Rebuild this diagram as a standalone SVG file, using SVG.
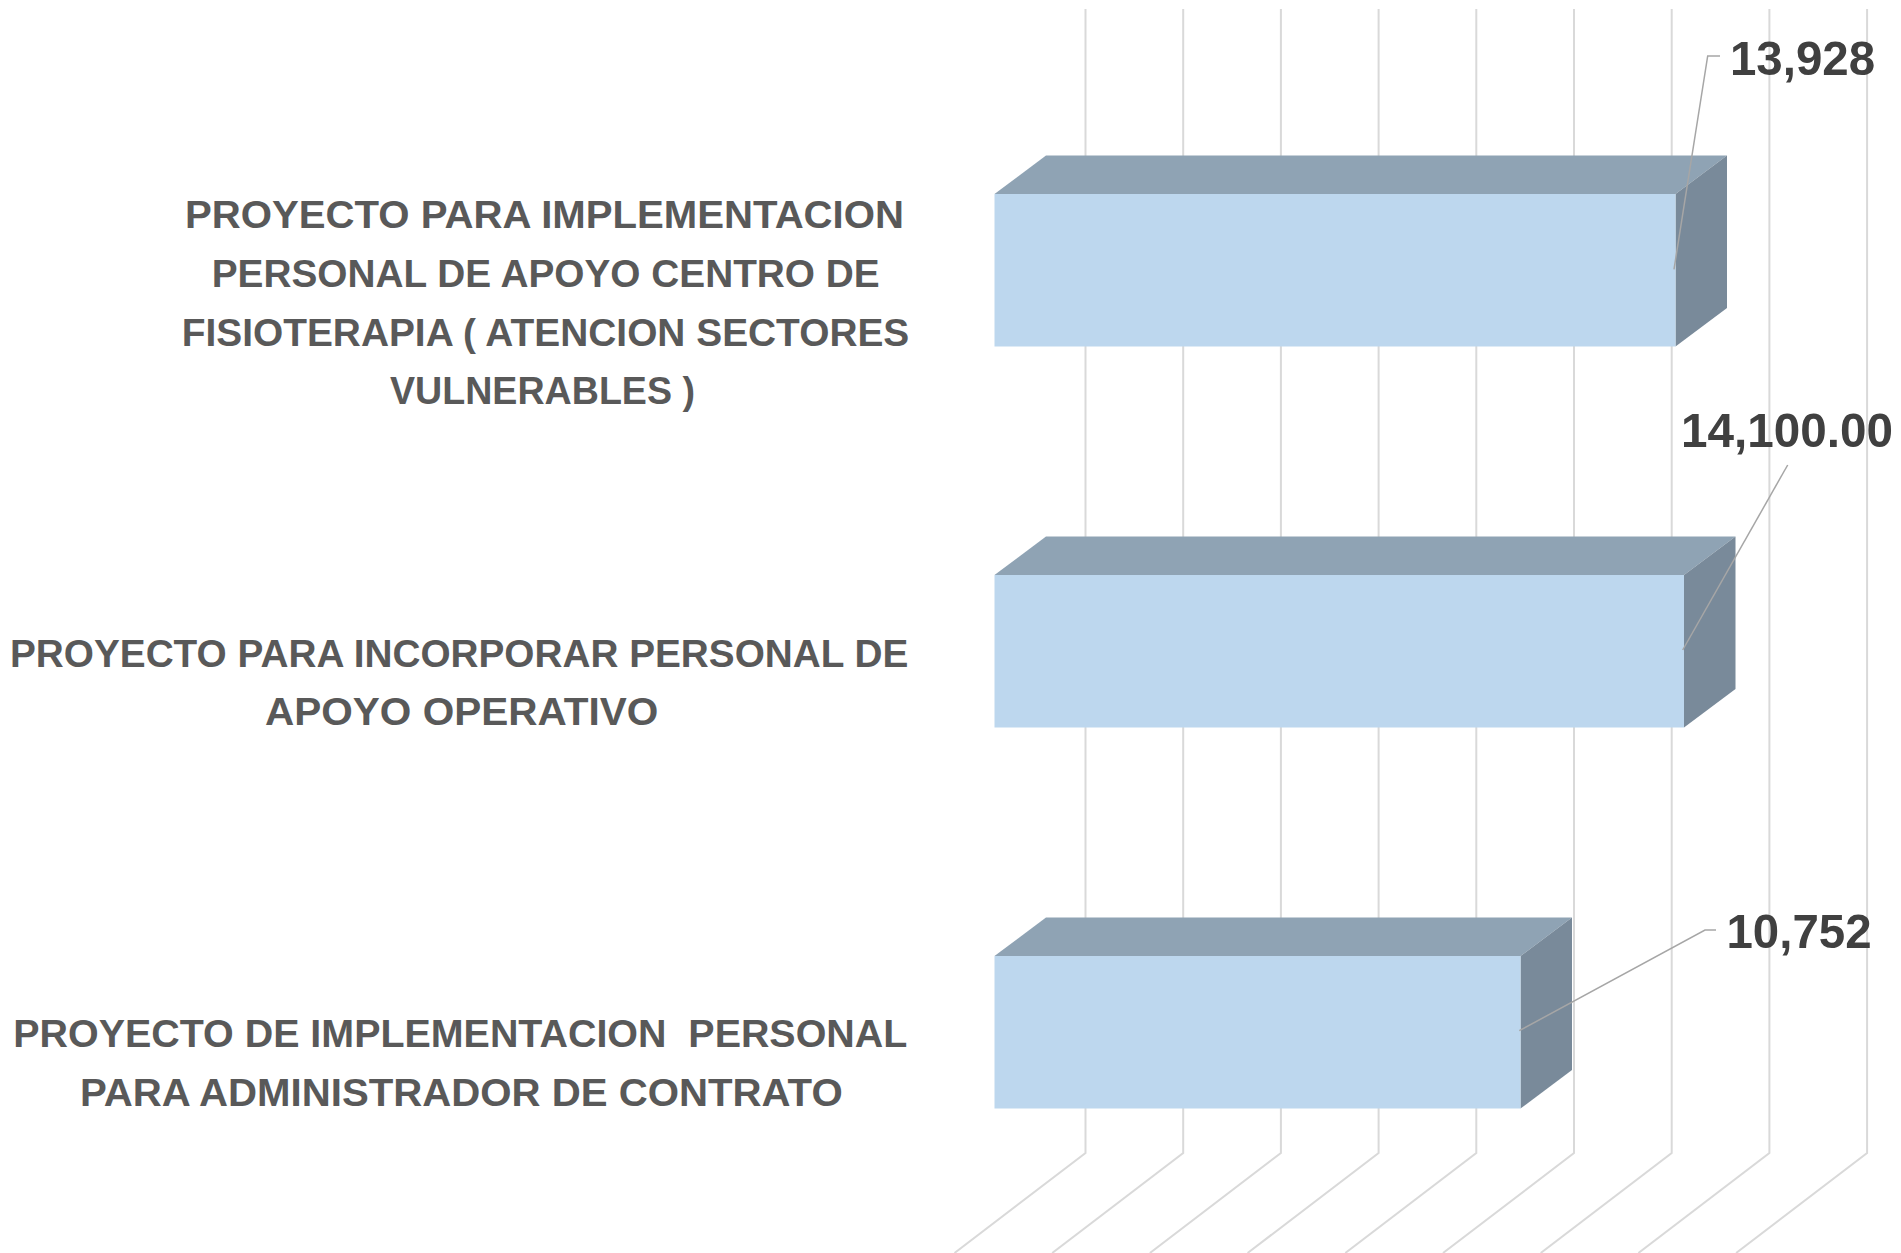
<svg xmlns="http://www.w3.org/2000/svg" width="1901" height="1253" viewBox="0 0 1901 1253">
<style>
.grid{stroke:#D9D9D9;stroke-width:2;fill:none}
.front{fill:#BDD7EE}
.top{fill:#8FA3B4}
.side{fill:#798A9A}
.cat{font-family:"Liberation Sans",Arial,sans-serif;font-weight:bold;font-size:38px;fill:#595959}
.val{font-family:"Liberation Sans",Arial,sans-serif;font-weight:bold;font-size:49px;fill:#404040}
.lead{stroke:#A6A6A6;stroke-width:1.5;fill:none}
</style>
<rect width="1901" height="1253" fill="#FFFFFF"/>
<g id="gridlines">
<polyline class="grid" points="1085.5,9 1085.5,1153 954.5,1253"/>
<polyline class="grid" points="1183.2,9 1183.2,1153 1052.2,1253"/>
<polyline class="grid" points="1280.9,9 1280.9,1153 1149.9,1253"/>
<polyline class="grid" points="1378.6,9 1378.6,1153 1247.6,1253"/>
<polyline class="grid" points="1476.3,9 1476.3,1153 1345.3,1253"/>
<polyline class="grid" points="1574,9 1574,1153 1443,1253"/>
<polyline class="grid" points="1671.7,9 1671.7,1153 1540.7,1253"/>
<polyline class="grid" points="1769.4,9 1769.4,1153 1638.4,1253"/>
<polyline class="grid" points="1867.1,9 1867.1,1153 1736.1,1253"/>
</g>
<g id="bar1">
<polygon class="top" points="994.5,194 1046,155.5 1727,155.5 1675.5,194"/>
<polygon class="side" points="1675.5,194 1727,155.5 1727,308 1675.5,346.5"/>
<rect class="front" x="994.5" y="194" width="681" height="152.5"/>
</g>
<g id="bar2">
<polygon class="top" points="994.5,575 1046,536.5 1735.5,536.5 1684,575"/>
<polygon class="side" points="1684,575 1735.5,536.5 1735.5,689 1684,727.5"/>
<rect class="front" x="994.5" y="575" width="689.5" height="152.5"/>
</g>
<g id="bar3">
<polygon class="top" points="994.5,956 1046,917.5 1572,917.5 1520.5,956"/>
<polygon class="side" points="1520.5,956 1572,917.5 1572,1070 1520.5,1108.5"/>
<rect class="front" x="994.5" y="956" width="526" height="152.5"/>
</g>
<g id="connectors">
<polyline class="lead" points="1674,269.3 1707.7,56 1720,56"/>
<polyline class="lead" points="1682.7,650 1787.7,465"/>
<polyline class="lead" points="1519.3,1030.7 1705,930 1716,930"/>
</g>
<g id="value-labels">
<text class="val" x="1730" y="75" textLength="145" lengthAdjust="spacingAndGlyphs">13,928</text>
<text class="val" x="1681" y="446.7" textLength="212" lengthAdjust="spacingAndGlyphs">14,100.00</text>
<text class="val" x="1726.5" y="948.3" textLength="145" lengthAdjust="spacingAndGlyphs">10,752</text>
</g>
<g id="label1">
<text class="cat" x="185" y="228.3" textLength="719" lengthAdjust="spacingAndGlyphs">PROYECTO PARA IMPLEMENTACION</text>
<text class="cat" x="211.7" y="287.3" textLength="668" lengthAdjust="spacingAndGlyphs">PERSONAL DE APOYO CENTRO DE</text>
<text class="cat" x="181.7" y="345.7" textLength="727.6" lengthAdjust="spacingAndGlyphs">FISIOTERAPIA ( ATENCION SECTORES</text>
<text class="cat" x="390" y="404" textLength="305" lengthAdjust="spacingAndGlyphs">VULNERABLES )</text>
</g>
<g id="label2">
<text class="cat" x="10" y="666.7" textLength="898.3" lengthAdjust="spacingAndGlyphs">PROYECTO PARA INCORPORAR PERSONAL DE</text>
<text class="cat" x="265" y="725" textLength="393.3" lengthAdjust="spacingAndGlyphs">APOYO OPERATIVO</text>
</g>
<g id="label3">
<text class="cat" x="13.3" y="1046.7" textLength="894" lengthAdjust="spacingAndGlyphs" xml:space="preserve">PROYECTO DE IMPLEMENTACION  PERSONAL</text>
<text class="cat" x="80" y="1106" textLength="762.7" lengthAdjust="spacingAndGlyphs">PARA ADMINISTRADOR DE CONTRATO</text>
</g>
</svg>
